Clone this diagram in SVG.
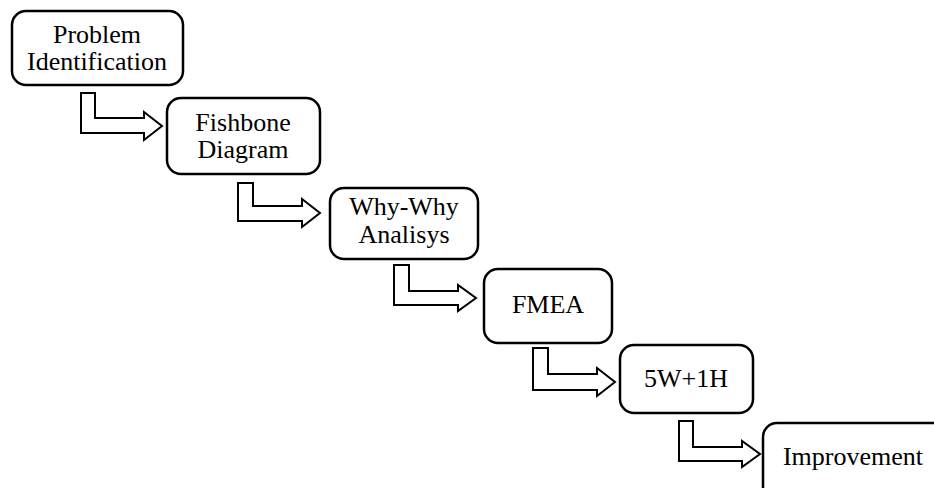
<svg xmlns="http://www.w3.org/2000/svg" width="934" height="488" viewBox="0 0 934 488">
  <style>
    .box { fill: #ffffff; stroke: #000000; stroke-width: 2.5; }
    .lbl { font-family: "Liberation Serif", "Times New Roman", serif; font-size: 26px; fill: #000000; text-anchor: middle; }
    .step { fill: #ffffff; stroke: #000000; stroke-width: 2; stroke-linejoin: miter; }
  </style>
  <rect width="934" height="488" fill="#ffffff"/>

  <!-- elbow arrows between consecutive steps -->
  <g id="connectors">
    <path class="step" d="M81,93 H95 V118 H144 V112 L162,126 L144,140 V133 H81 Z"/>
    <path class="step" d="M238,183 H253 V206 H302 V199 L320,213 L302,227 V221 H238 Z"/>
    <path class="step" d="M394,265 H409 V291 H458 V285 L476,298 L458,311 V305 H394 Z"/>
    <path class="step" d="M533,348 H548 V374 H597 V368 L615,382 L597,396 V390 H533 Z"/>
    <path class="step" d="M679,421 H693 V447 H742 V441 L760,454 L742,467 V461 H679 Z"/>
  </g>

  <g id="node-problem">
    <rect class="box" x="12" y="11" width="171" height="74" rx="14"/>
    <text class="lbl" x="97" y="43">Problem</text>
    <text class="lbl" x="97" y="70">Identification</text>
  </g>

  <g id="node-fishbone">
    <rect class="box" x="167" y="98" width="153" height="76" rx="14"/>
    <text class="lbl" x="243" y="131">Fishbone</text>
    <text class="lbl" x="243" y="158">Diagram</text>
  </g>

  <g id="node-whywhy">
    <rect class="box" x="330" y="188" width="148" height="71" rx="14"/>
    <text class="lbl" x="404" y="215">Why-Why</text>
    <text class="lbl" x="404" y="243">Analisys</text>
  </g>

  <g id="node-fmea">
    <rect class="box" x="484" y="269" width="128" height="74" rx="14"/>
    <text class="lbl" x="548" y="313">FMEA</text>
  </g>

  <g id="node-5w1h">
    <rect class="box" x="620" y="345" width="133" height="68" rx="14"/>
    <text class="lbl" x="686" y="387">5W+1H</text>
  </g>

  <g id="node-improvement">
    <rect class="box" x="763" y="423" width="190" height="90" rx="14"/>
    <text class="lbl" x="853" y="465">Improvement</text>
  </g>
</svg>
